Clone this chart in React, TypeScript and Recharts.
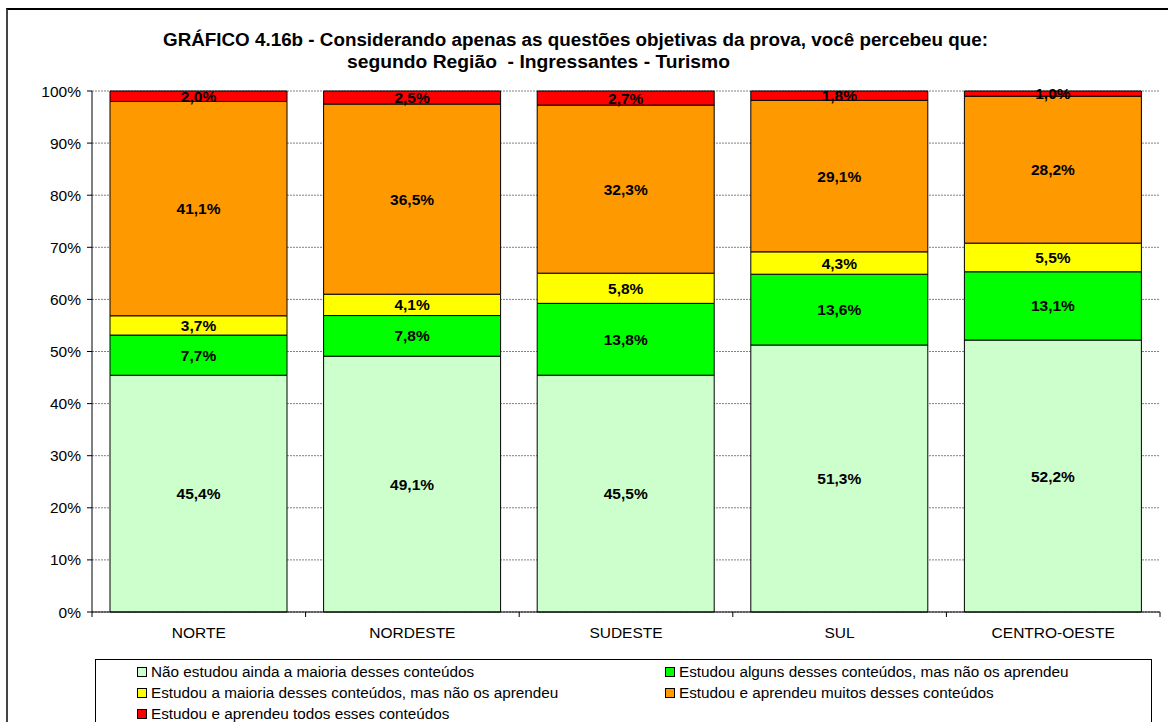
import React from "react";
import { BarChart, Bar, XAxis, YAxis, CartesianGrid, LabelList } from "recharts";

const categories = ["NORTE", "NORDESTE", "SUDESTE", "SUL", "CENTRO-OESTE"];
const naoEstudou = [45.4, 49.1, 45.5, 51.3, 52.2];
const algunsNaoAprendeu = [7.7, 7.8, 13.8, 13.6, 13.1];
const maioriaNaoAprendeu = [3.7, 4.1, 5.8, 4.3, 5.5];
const aprendeuMuitos = [41.1, 36.5, 32.3, 29.1, 28.2];
const aprendeuTodos = [2.0, 2.5, 2.7, 1.8, 1.0];
const yTicks = [0, 0.1, 0.2, 0.3, 0.4, 0.5, 0.6, 0.7, 0.8, 0.9, 1];
const titleLine1 = "GRÁFICO 4.16b - Considerando apenas as questões objetivas da prova, você percebeu que:";
const titleLine2 = "segundo Região  - Ingressantes - Turismo";

const seriesDefs = [
  { key: "s1", name: "Não estudou ainda a maioria desses conteúdos", color: "#CCFFCC", values: naoEstudou },
  { key: "s2", name: "Estudou alguns desses conteúdos, mas não os aprendeu", color: "#00FF00", values: algunsNaoAprendeu },
  { key: "s3", name: "Estudou a maioria desses conteúdos, mas não os aprendeu", color: "#FFFF00", values: maioriaNaoAprendeu },
  { key: "s4", name: "Estudou e aprendeu muitos desses conteúdos", color: "#FF9900", values: aprendeuMuitos },
  { key: "s5", name: "Estudou e aprendeu todos esses conteúdos", color: "#FF0000", values: aprendeuTodos },
];

const data = categories.map((c, i) => {
  const row: any = { name: c };
  seriesDefs.forEach((s) => (row[s.key] = s.values[i]));
  return row;
});

const FONT = "'Liberation Sans', Arial, sans-serif";
const fmt = (v: any) => Number(v).toFixed(1).replace(".", ",") + "%";

const XTick = (props: any) => {
  const { x, y, payload, index } = props;
  const half = 106.8;
  return (
    <g>
      <line x1={x - half} x2={x - half} y1={612} y2={617} stroke="#000" />
      {index === categories.length - 1 && (
        <line x1={x + half} x2={x + half} y1={612} y2={617} stroke="#000" />
      )}
      <text x={x} y={y + 18} textAnchor="middle" fontSize={15.5} fontFamily={FONT} fill="#000">
        {payload.value}
      </text>
    </g>
  );
};

const legendPos = [
  { left: 137, top: 664 },
  { left: 665, top: 664 },
  { left: 137, top: 685 },
  { left: 665, top: 685 },
  { left: 137, top: 706 },
];

export default function App() {
  return (
    <div
      style={{
        position: "fixed",
        left: 0,
        top: 0,
        width: 1168,
        height: 722,
        overflow: "hidden",
        background: "#fff",
        fontFamily: FONT,
      }}
    >
      <div
        style={{
          position: "absolute",
          left: 6,
          top: 8,
          width: 1200,
          height: 800,
          borderTop: "2px solid #000",
          borderLeft: "2px solid #444",
          boxSizing: "border-box",
        }}
      />
      <svg
        width={1168}
        height={80}
        style={{ position: "absolute", left: 0, top: 0 }}
      >
        <text
          x={163}
          y={46}
          fontSize={17.5}
          fontWeight="bold"
          fontFamily={FONT}
          textLength={825}
          lengthAdjust="spacingAndGlyphs"
          fill="#000"
        >
          {titleLine1}
        </text>
        <text
          x={347}
          y={68}
          fontSize={17.5}
          fontWeight="bold"
          fontFamily={FONT}
          textLength={383}
          lengthAdjust="spacingAndGlyphs"
          fill="#000"
          style={{ whiteSpace: "pre" }}
        >
          {titleLine2}
        </text>
      </svg>
      <div style={{ position: "absolute", left: 0, top: 0 }}>
        <BarChart
          width={1168}
          height={722}
          data={data}
          stackOffset="expand"
          barSize={177}
          margin={{ top: 91, right: 8, left: 0, bottom: 80 }}
        >
          <CartesianGrid vertical={false} stroke="#808080" strokeDasharray="2 1" />
          <XAxis
            dataKey="name"
            height={30}
            axisLine={{ stroke: "#000" }}
            tickLine={false}
            tick={<XTick />}
            interval={0}
          />
          <XAxis xAxisId="top" orientation="top" height={0} axisLine={{ stroke: "#808080" }} tick={false} tickLine={false} />
          <YAxis
            width={92}
            domain={[0, 1]}
            ticks={yTicks}
            interval={0}
            tickFormatter={(v: number) => Math.round(v * 100) + "%"}
            axisLine={{ stroke: "#000" }}
            tickLine={{ stroke: "#000" }}
            tickSize={5}
            tickMargin={6}
            tick={{ fontSize: 15.5, fontFamily: FONT, fill: "#000" }}
          />
          <YAxis yAxisId="right" orientation="right" width={0} axisLine={{ stroke: "#808080" }} tick={false} tickLine={false} />
          {seriesDefs.map((s) => (
            <Bar
              key={s.key}
              dataKey={s.key}
              name={s.name}
              stackId="a"
              fill={s.color}
              stroke="#000"
              strokeWidth={1}
              isAnimationActive={false}
            >
              <LabelList
                dataKey={s.key}
                position="center"
                formatter={fmt}
                style={{ fontSize: 15.5, fontWeight: "bold", fontFamily: FONT, fill: "#000" }}
              />
            </Bar>
          ))}
        </BarChart>
      </div>
      <div
        style={{
          position: "absolute",
          left: 95,
          top: 659,
          width: 1057,
          height: 100,
          border: "1px solid #000",
          boxSizing: "border-box",
        }}
      />
      {seriesDefs.map((s, i) => (
        <div
          key={s.key}
          style={{
            position: "absolute",
            left: legendPos[i].left,
            top: legendPos[i].top,
            display: "flex",
            alignItems: "center",
            fontSize: 15.3,
            lineHeight: "15px",
            color: "#000",
            whiteSpace: "nowrap",
          }}
        >
          <span
            style={{
              display: "inline-block",
              width: 10,
              height: 10,
              background: s.color,
              border: "1px solid #000",
              boxSizing: "border-box",
              marginRight: 4,
            }}
          />
          {s.name}
        </div>
      ))}
    </div>
  );
}
